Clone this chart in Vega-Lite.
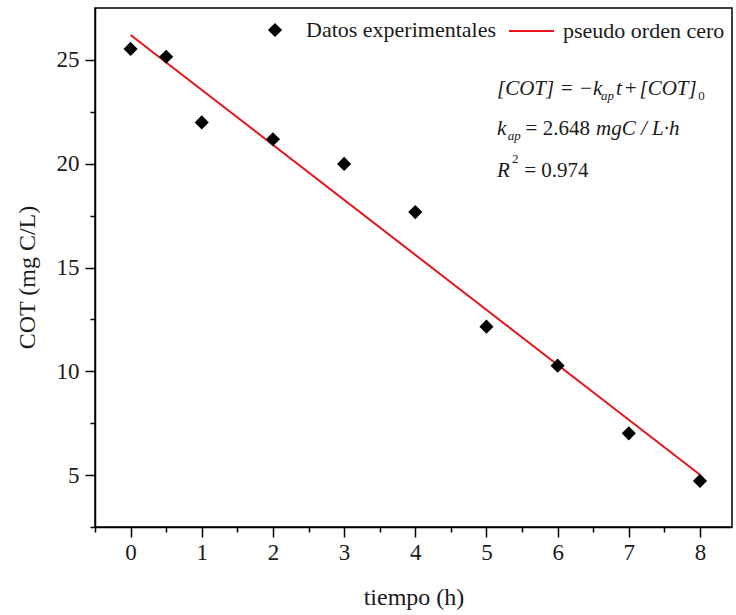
{
  "$schema": "https://vega.github.io/schema/vega-lite/v6.json",
  "width": 637,
  "height": 519,
  "autosize": {"type": "none"},
  "padding": {"left": 95, "top": 8, "right": 4, "bottom": 88},
  "background": "white",
  "config": {
    "view": {"stroke": "black", "strokeWidth": 1.5},
    "font": "Liberation Serif",
    "axis": {
      "labelFont": "Liberation Serif",
      "labelFontSize": 23,
      "labelColor": "#1a1a1a",
      "titleFont": "Liberation Serif",
      "titleFontSize": 24,
      "titleFontWeight": "normal",
      "titleColor": "#1a1a1a",
      "tickColor": "black",
      "tickWidth": 1.5,
      "domainColor": "black",
      "domainWidth": 1.5,
      "grid": false
    },
    "legend": {
      "labelFont": "Liberation Serif",
      "labelFontSize": 22,
      "labelColor": "#1a1a1a",
      "labelLimit": 400,
      "padding": 0
    }
  },
  "datasets": {
    "exp": [
      {"t": 0, "cot": 25.53, "serie": "Datos experimentales"},
      {"t": 0.5, "cot": 25.15, "serie": "Datos experimentales"},
      {"t": 1, "cot": 21.99, "serie": "Datos experimentales"},
      {"t": 2, "cot": 21.18, "serie": "Datos experimentales"},
      {"t": 3, "cot": 19.99, "serie": "Datos experimentales"},
      {"t": 4, "cot": 17.67, "serie": "Datos experimentales"},
      {"t": 5, "cot": 12.15, "serie": "Datos experimentales"},
      {"t": 6, "cot": 10.27, "serie": "Datos experimentales"},
      {"t": 7, "cot": 7.01, "serie": "Datos experimentales"},
      {"t": 8, "cot": 4.72, "serie": "Datos experimentales"}
    ],
    "fit": [
      {"t": 0, "cot": 26.2, "modelo": "pseudo orden cero"},
      {"t": 8, "cot": 5.02, "modelo": "pseudo orden cero"}
    ],
    "eqItalic": [
      {"x": 5.148, "y": 23.31, "txt": "[COT] = −k"},
      {"x": 6.82, "y": 23.31, "txt": "t\u200a+\u200a[COT]"},
      {"x": 5.148, "y": 21.38, "txt": "k"},
      {"x": 6.54, "y": 21.38, "txt": "mgC / L·h"},
      {"x": 5.148, "y": 19.36, "txt": "R"}
    ],
    "eqNormal": [
      {"x": 5.55, "y": 21.38, "txt": "= 2.648"},
      {"x": 5.53, "y": 19.36, "txt": "= 0.974"}
    ],
    "eqSubItalic": [
      {"x": 6.61, "y": 23.07, "txt": "ap"},
      {"x": 5.3, "y": 21.14, "txt": "ap"}
    ],
    "eqSubNormal": [
      {"x": 7.975, "y": 23.07, "txt": "0"},
      {"x": 5.36, "y": 20.03, "txt": "2"}
    ]
  },
  "layer": [
    {
      "data": {"name": "exp"},
      "mark": {"type": "point", "opacity": 0},
      "encoding": {
        "x": {
          "field": "t", "type": "quantitative",
          "scale": {"domain": [-0.5, 8.45], "nice": false, "zero": false},
          "axis": {"orient": "bottom", "values": [-0.5, 0.5, 1.5, 2.5, 3.5, 4.5, 5.5, 6.5, 7.5], "labels": false, "domain": false, "tickSize": 5, "title": null}
        },
        "y": {
          "field": "cot", "type": "quantitative",
          "scale": {"domain": [2.5, 27.5], "nice": false, "zero": false},
          "axis": {"orient": "left", "values": [2.5, 7.5, 12.5, 17.5, 22.5], "labels": false, "domain": false, "tickSize": 5, "title": null}
        }
      }
    },
    {
      "data": {"name": "fit"},
      "mark": {"type": "line", "strokeWidth": 2},
      "encoding": {
        "x": {"field": "t", "type": "quantitative", "axis": null},
        "y": {"field": "cot", "type": "quantitative", "axis": null},
        "color": {
          "field": "modelo", "type": "nominal",
          "scale": {"range": ["#e8131b"]},
          "legend": {
            "title": null, "orient": "none", "legendX": 413, "legendY": -0.5,
            "symbolType": "stroke", "symbolSize": 2025, "symbolStrokeWidth": 2,
            "labelOffset": 8
          }
        }
      }
    },
    {
      "data": {"name": "exp"},
      "mark": {"type": "point", "filled": true, "color": "black", "opacity": 1, "size": 200},
      "encoding": {
        "x": {
          "field": "t", "type": "quantitative",
          "axis": {"orient": "bottom", "values": [0, 1, 2, 3, 4, 5, 6, 7, 8], "format": "d", "tickSize": 10, "labelPadding": 4, "title": "tiempo (h)", "titlePadding": 21}
        },
        "y": {
          "field": "cot", "type": "quantitative",
          "axis": {"orient": "left", "values": [5, 10, 15, 20, 25], "format": "d", "tickSize": 10, "labelPadding": 6, "title": "COT (mg C/L)", "titlePadding": 17, "titleY": 269}
        },
        "shape": {
          "field": "serie", "type": "nominal",
          "scale": {"range": ["diamond"]},
          "legend": {
            "title": null, "orient": "none", "legendX": 169, "legendY": 11,
            "symbolSize": 200, "symbolFillColor": "black", "symbolStrokeColor": "black",
            "labelOffset": 20
          }
        }
      }
    },
    {
      "data": {"name": "eqItalic"},
      "mark": {"type": "text", "align": "left", "baseline": "alphabetic", "fontSize": 21, "fontStyle": "italic", "font": "Liberation Serif", "color": "#1a1a1a"},
      "encoding": {
        "x": {"field": "x", "type": "quantitative", "axis": null},
        "y": {"field": "y", "type": "quantitative", "axis": null},
        "text": {"field": "txt"}
      }
    },
    {
      "data": {"name": "eqNormal"},
      "mark": {"type": "text", "align": "left", "baseline": "alphabetic", "fontSize": 21, "font": "Liberation Serif", "color": "#1a1a1a"},
      "encoding": {
        "x": {"field": "x", "type": "quantitative", "axis": null},
        "y": {"field": "y", "type": "quantitative", "axis": null},
        "text": {"field": "txt"}
      }
    },
    {
      "data": {"name": "eqSubItalic"},
      "mark": {"type": "text", "align": "left", "baseline": "alphabetic", "fontSize": 13, "fontStyle": "italic", "font": "Liberation Serif", "color": "#1a1a1a"},
      "encoding": {
        "x": {"field": "x", "type": "quantitative", "axis": null},
        "y": {"field": "y", "type": "quantitative", "axis": null},
        "text": {"field": "txt"}
      }
    },
    {
      "data": {"name": "eqSubNormal"},
      "mark": {"type": "text", "align": "left", "baseline": "alphabetic", "fontSize": 13, "font": "Liberation Serif", "color": "#1a1a1a"},
      "encoding": {
        "x": {"field": "x", "type": "quantitative", "axis": null},
        "y": {"field": "y", "type": "quantitative", "axis": null},
        "text": {"field": "txt"}
      }
    }
  ],
  "resolve": {"axis": {"x": "independent", "y": "independent"}}
}
